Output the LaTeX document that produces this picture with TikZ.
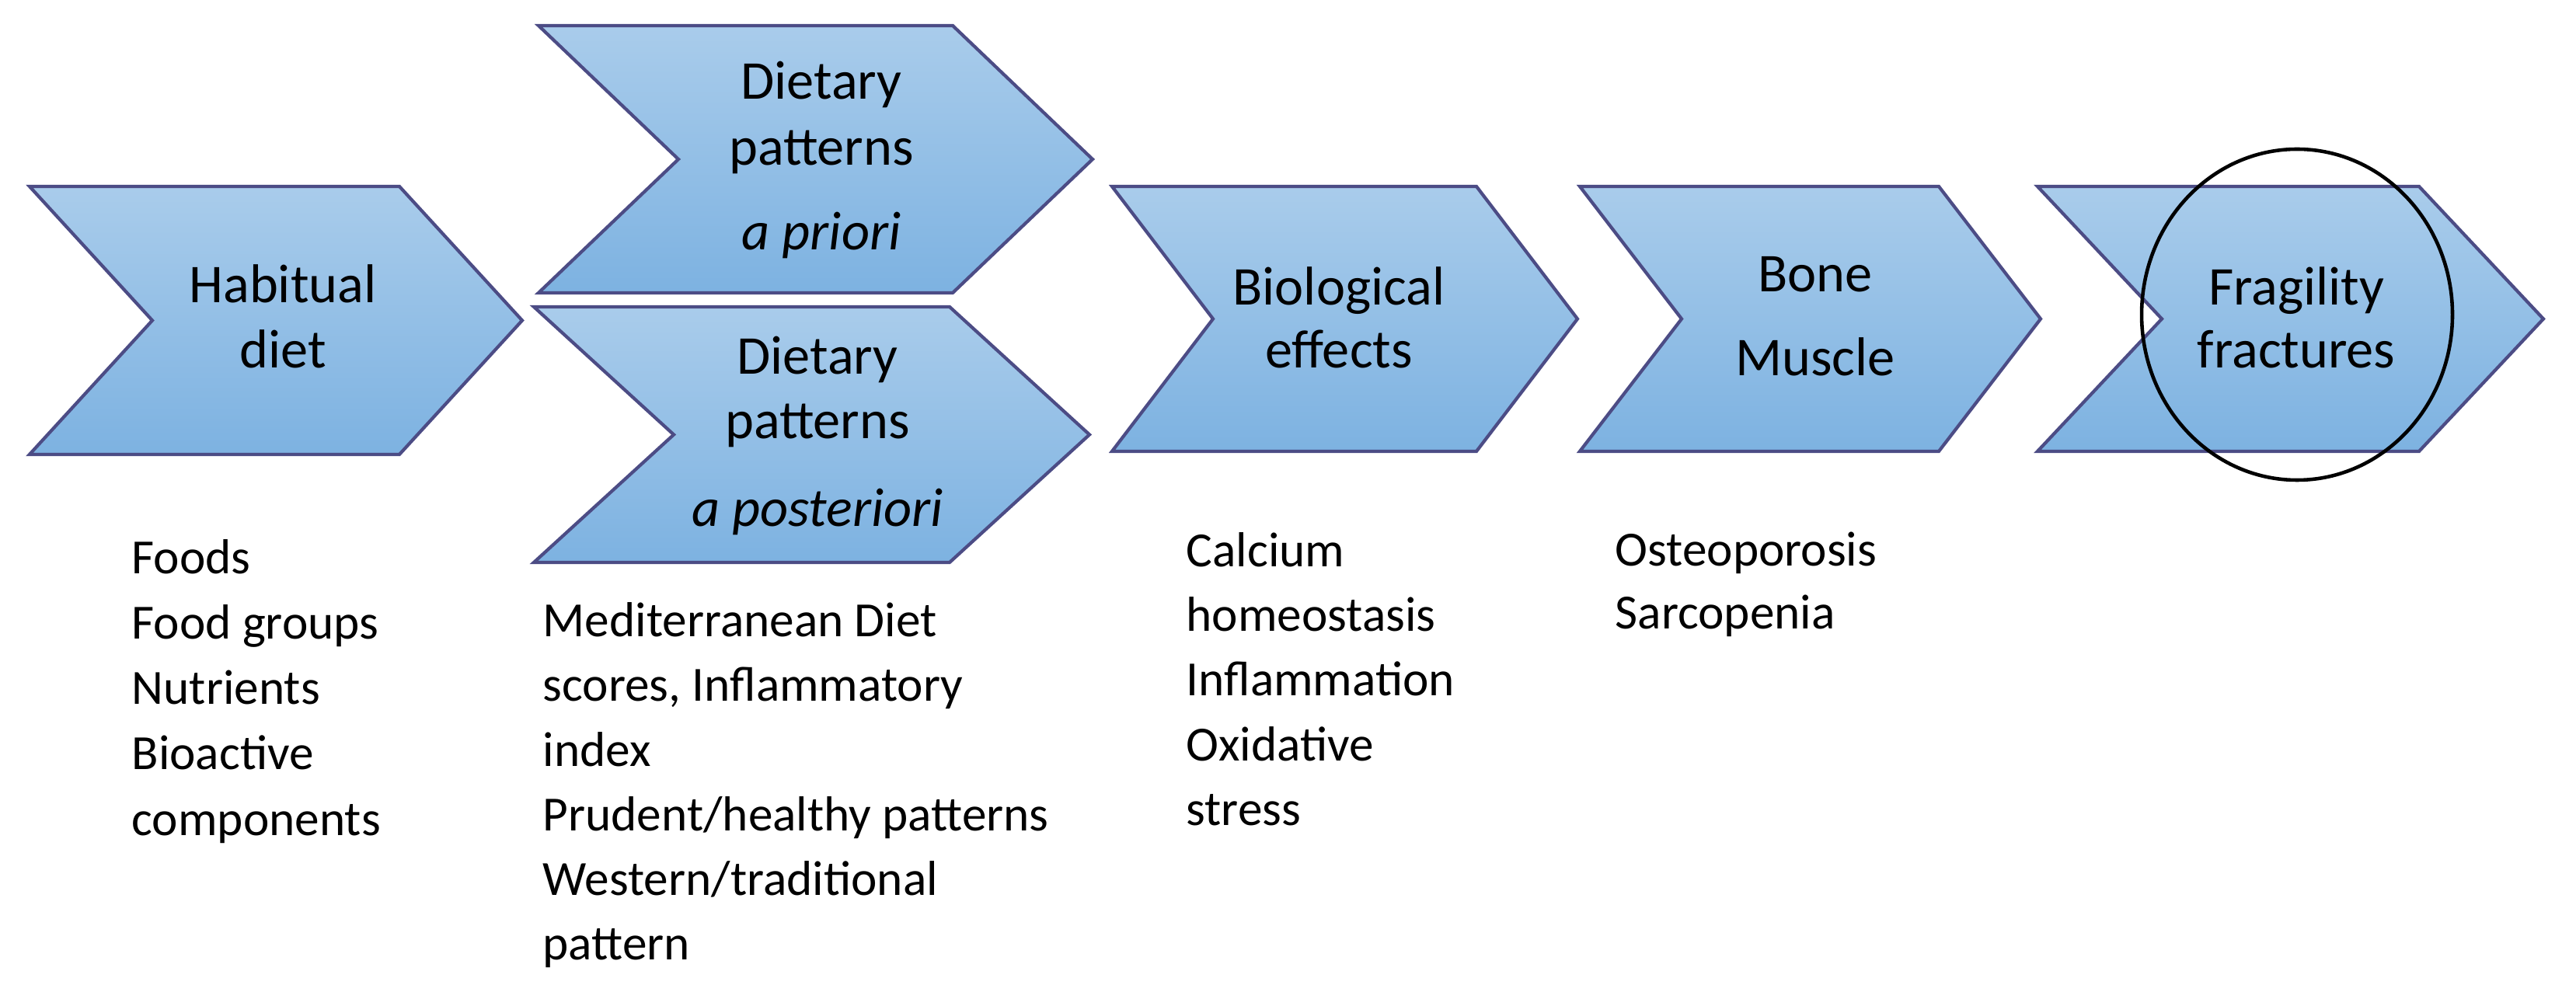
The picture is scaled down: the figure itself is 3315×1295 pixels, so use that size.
\documentclass[tikz,border=0pt]{standalone}
\usepackage{fontspec}
\setmainfont{Carlito}
\begin{document}
\begin{tikzpicture}[x=0.01cm,y=-0.01cm,
  chev/.style={draw=black!45!blue!40!gray, line width=1.2pt, top color=cvtop, bottom color=cvbot, line join=miter},
  lab/.style={font=\fontsize{20}{24}\selectfont, anchor=base, inner sep=0pt},
  lst/.style={font=\fontsize{18}{22}\selectfont, anchor=base west, inner sep=0pt}]
\definecolor{cvtop}{HTML}{A9CCEB}
\definecolor{cvbot}{HTML}{7DB2E1}
\useasboundingbox (0,0) rectangle (3315,1295);
% chevron: left, corner, tip, top, bottom
\newcommand{\chevron}[6]{%
  \pgfmathsetmacro{\dd}{#3-#2}\pgfmathsetmacro{\mm}{(#4+#5)/2}%
  \draw[chev] (#1,#4) -- (#2,#4) -- (#3,\mm) -- (#2,#5) -- (#1,#5) -- (#1+\dd,\mm) -- cycle;
  \coordinate (#6) at ({(#1+#3)/2},\mm);}
\chevron{38}{514}{672}{240}{585}{hab}
\chevron{693}{1226}{1406}{33}{377}{dpa}
\chevron{687}{1222}{1402}{395}{724}{dpb}
\chevron{1431}{1900}{2030}{240}{581}{bio}
\chevron{2033}{2495}{2626}{240}{581}{bone}
\chevron{2622}{3113}{3273}{240}{581}{frag}
\draw[line width=1.3pt] (2956,405) ellipse [x radius=200, y radius=213];
% labels
\node[lab] (h1) at (364,390) {Habitual};
\node[lab] (h2) at (364,474) {diet};
\node[lab] (a1) at (1057,128) {Dietary};
\node[lab] (a2) at (1057,213) {patterns};
\node[lab] (a3) at (1057,322) {\itshape a priori};
\node[lab] (b1) at (1052,482) {Dietary};
\node[lab] (b2) at (1052,565) {patterns};
\node[lab] (b3) at (1052,678) {\itshape a posteriori};
\node[lab] (c1) at (1723,393) {Biological};
\node[lab] (c2) at (1723,474) {effects};
\node[lab] (d1) at (2336,376) {Bone};
\node[lab] (d2) at (2336,484) {Muscle};
\node[lab] (f1) at (2955,393) {Fragility};
\node[lab] (f2) at (2955,474) {fractures};
% lists
\foreach \t [count=\i] in {Foods,Food groups,Nutrients,Bioactive,components}
  \node[lst] (l1-\i) at (169,{719+84*(\i-1)+20}) {\t};
\foreach \t [count=\i] in {Mediterranean Diet,{scores, Inflammatory},index,Prudent/healthy patterns,Western/traditional,pattern}
  \node[lst] (l2-\i) at (698,{800+83*(\i-1)+20}) {\t};
\foreach \t [count=\i] in {Calcium,homeostasis,Inflammation,Oxidative,stress}
  \node[lst] (l3-\i) at (1526,{710+83*(\i-1)+20}) {\t};
\foreach \t [count=\i] in {Osteoporosis,Sarcopenia}
  \node[lst] (l4-\i) at (2078,{709+81*(\i-1)+20}) {\t};
\end{tikzpicture}
\end{document}
